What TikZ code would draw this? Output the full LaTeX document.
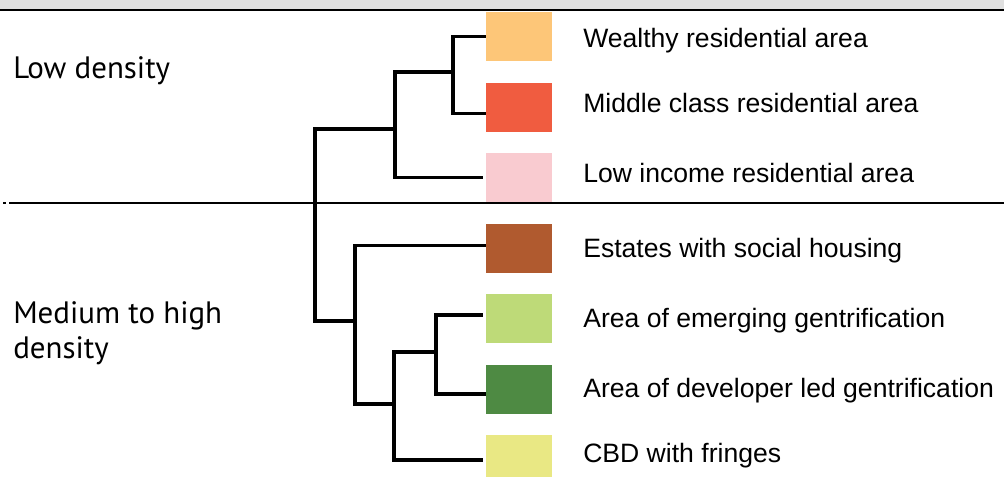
\documentclass[tikz,border=0pt]{standalone}
\usepackage{fontspec}
\setmainfont{Liberation Sans}
\newfontfamily\groupfont{PT Sans}
\usetikzlibrary{positioning}

\definecolor{wealthycol}{RGB}{253,198,120}
\definecolor{middlecol}{RGB}{240,92,64}
\definecolor{lowinccol}{RGB}{249,203,208}
\definecolor{estatescol}{RGB}{176,90,47}
\definecolor{emergingcol}{RGB}{190,218,120}
\definecolor{developercol}{RGB}{78,138,67}
\definecolor{cbdcol}{RGB}{233,232,132}
\definecolor{bandcol}{RGB}{224,224,224}

\tikzset{
  swatch/.style={minimum width=16.5mm, minimum height=12.25mm, inner sep=0pt},
  label/.style={anchor=base west, inner sep=0pt, font=\fontsize{18.9}{22}\selectfont},
  group/.style={anchor=base west, inner sep=0pt, align=left, font=\groupfont\fontsize{22}{24.8}\selectfont},
  branch/.style={line width=2.4pt}
}

\begin{document}
\begin{tikzpicture}[x=0.25mm, y=-0.25mm]
        \useasboundingbox (0,0) rectangle (1004,476);
        % window band at the top
        \fill[bandcol] (0,0) rectangle (1004,9.5);
        \draw[line width=1.4pt] (0,10) -- (1004,10);
        % separator between the two groups
        \draw[line width=0.8pt] (3,203) -- (6,203) (9,203) -- (1004,203);
        \node[group] (low) at (13,78) {Low density};
        \node[group] (high) at (13,358) {Medium to high\\density};
        % colour swatches
        \node[swatch, fill=wealthycol] (wealthy) at (519,36.5) {};
        \node[swatch, fill=middlecol, below=5.25mm of wealthy] (middle) {};
        \node[swatch, fill=lowinccol, below=5.25mm of middle] (lowinc) {};
        \node[swatch, fill=estatescol, below=5.25mm of lowinc] (estates) {};
        \node[swatch, fill=emergingcol, below=5.25mm of estates] (emerging) {};
        \node[swatch, fill=developercol, below=5.25mm of emerging] (developer) {};
        \node[swatch, fill=cbdcol, below=5.25mm of developer] (cbd) {};
        % class labels
        \node[label] at (583,47) {Wealthy residential area};
        \node[label] at (583,112) {Middle class residential area};
        \node[label] at (583,182) {Low income residential area};
        \node[label] at (583,257) {Estates with social housing};
        \node[label] at (583,327) {Area of emerging gentrification};
        \node[label] at (583,397) {Area of developer led gentrification};
        \node[label] at (583,462) {CBD with fringes};
        % dendrogram
        \coordinate (j1) at (453,72);
        \coordinate (j2) at (395,129);
        \coordinate (j6) at (436,352);
        \coordinate (j5) at (394,404);
        \coordinate (j4) at (355,321);
        \coordinate (root) at (315,225);
        \draw[branch] (j1) |- (wealthy.west);
        \draw[branch] (j1) |- ([yshift=-1.6mm]middle.west);
        \draw[branch] (j2) |- (j1);
        \draw[branch] (j2) |- ([xshift=-0.75mm]lowinc.west);
        \draw[branch] (root) |- (j2);
        \draw[branch] (root) |- (j4);
        \draw[branch] (j4) |- ([yshift=0.6mm]estates.west);
        \draw[branch] (j4) |- (j5);
        \draw[branch] (j5) |- (j6);
        \draw[branch] (j5) |- ([xshift=-0.75mm]cbd.west);
        \draw[branch] (j6) |- ([xshift=-0.75mm, yshift=0.9mm]emerging.west);
        \draw[branch] (j6) |- ([yshift=-1.2mm]developer.west);
    \end{tikzpicture}
\end{document}
